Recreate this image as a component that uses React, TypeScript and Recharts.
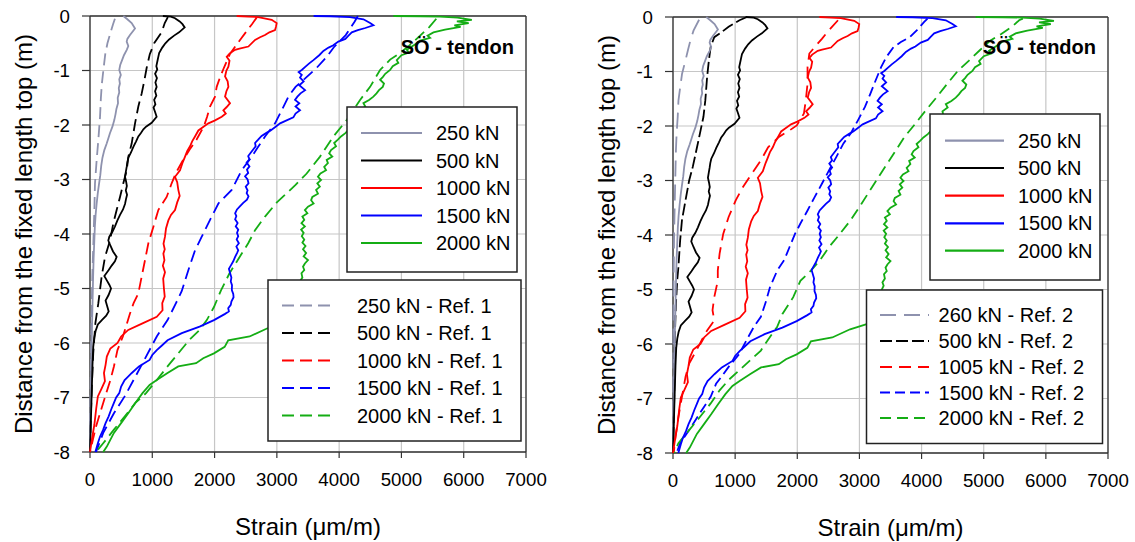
import React from 'react';
import { ScatterChart, Scatter, XAxis, YAxis, CartesianGrid, Legend, ReferenceLine } from 'recharts';

type Pt = [number, number]; // [strain (µm/m), depth (m)]

const FONT = '"Liberation Sans", Arial, Helvetica, sans-serif';

const strainTicks = [0, 1000, 2000, 3000, 4000, 5000, 6000, 7000];
const depthTicks = [0, -1, -2, -3, -4, -5, -6, -7, -8];

const loadLabels = ['250 kN', '500 kN', '1000 kN', '1500 kN', '2000 kN'];
const ref1Labels = ['250 kN - Ref. 1', '500 kN - Ref. 1', '1000 kN - Ref. 1', '1500 kN - Ref. 1', '2000 kN - Ref. 1'];
const ref2Labels = ['260 kN - Ref. 2', '500 kN - Ref. 2', '1005 kN - Ref. 2', '1500 kN - Ref. 2', '2000 kN - Ref. 2'];
const seriesColors = ['#8e92ae', '#000000', '#ff0000', '#0000ff', '#14ad14'];
const ref1Dashes = ['12 6', '12 6', '12 6', '12 6', '12 6'];
const ref2Dashes = ['16 8', '12 4', '12 7', '10 5', '11 6'];

// ---- measured (solid) ----
const meas250: Pt[] = [
  [535, 0], [600, -0.06], [669, -0.13], [723, -0.23], [642, -0.35], [600, -0.42], [589, -0.47], [615, -0.55],
  [590, -0.62], [545, -0.72], [515, -0.81], [485, -0.9], [470, -0.99], [495, -1.08], [470, -1.16], [480, -1.24],
  [462, -1.32], [470, -1.4], [445, -1.5], [450, -1.6], [425, -1.7], [410, -1.8], [390, -1.91], [360, -2.03],
  [320, -2.15], [290, -2.26], [268, -2.34], [230, -2.46], [200, -2.6], [180, -2.75], [165, -2.92], [145, -3.08],
  [125, -3.25], [107, -3.44], [90, -3.65], [78, -3.86], [70, -4.1], [58, -4.45], [50, -4.78], [40, -5.3],
  [30, -5.8], [20, -6.4], [12, -7.0], [5, -7.5], [0, -8],
];
const meas500: Pt[] = [
  [1170, 0], [1300, -0.01], [1365, -0.04], [1440, -0.1], [1485, -0.15], [1520, -0.21], [1430, -0.3], [1350, -0.36],
  [1270, -0.43], [1210, -0.5], [1160, -0.58], [1110, -0.68], [1095, -0.76], [1080, -0.84], [1065, -0.92], [1080, -0.98],
  [1045, -1.06], [1075, -1.14], [1050, -1.22], [1070, -1.3], [1045, -1.38], [1065, -1.46], [1030, -1.54], [1050, -1.62],
  [1020, -1.68], [1045, -1.76], [1070, -1.85], [990, -1.96], [900, -2.03], [857, -2.08], [815, -2.15], [776, -2.21],
  [740, -2.3], [696, -2.4], [660, -2.5], [616, -2.6], [600, -2.68], [589, -2.77], [575, -2.86], [562, -2.95],
  [580, -3.04], [592, -3.12], [575, -3.2], [595, -3.28], [578, -3.36], [562, -3.45], [530, -3.55], [482, -3.65],
  [440, -3.75], [401, -3.86], [360, -3.96], [310, -4.05], [294, -4.12], [330, -4.22], [370, -4.32], [428, -4.42],
  [400, -4.5], [348, -4.58], [300, -4.66], [230, -4.77], [270, -4.85], [310, -4.93], [338, -5.0], [298, -5.12],
  [250, -5.22], [275, -5.32], [300, -5.42], [260, -5.5], [190, -5.58], [126, -5.66], [90, -5.78], [69, -5.9],
  [52, -6.07], [40, -6.4], [30, -6.8], [20, -7.2], [10, -7.6], [0, -8],
];
const meas1000: Pt[] = [
  [2355, 0], [2543, -0.01], [2700, -0.02], [2917, -0.07], [2997, -0.13], [2985, -0.2], [2970, -0.26], [2880, -0.3],
  [2810, -0.35], [2730, -0.39], [2650, -0.44], [2543, -0.56], [2400, -0.6], [2329, -0.62], [2240, -0.69], [2195, -0.75],
  [2240, -0.82], [2222, -0.93], [2190, -1.0], [2168, -1.11], [2210, -1.2], [2222, -1.3], [2190, -1.38], [2168, -1.48],
  [2248, -1.6], [2195, -1.67], [2141, -1.73], [2180, -1.79], [2115, -1.85], [2000, -1.92], [1900, -1.97], [1800, -2.05],
  [1740, -2.1], [1686, -2.21], [1640, -2.3], [1606, -2.39], [1560, -2.48], [1526, -2.58], [1490, -2.68], [1445, -2.83],
  [1365, -2.95], [1400, -3.05], [1418, -3.19], [1440, -3.3], [1400, -3.42], [1365, -3.56], [1300, -3.65], [1258, -3.75],
  [1220, -3.9], [1204, -4.05], [1180, -4.18], [1200, -4.28], [1178, -4.36], [1195, -4.48], [1170, -4.58], [1204, -4.7],
  [1175, -4.82], [1187, -5.0], [1200, -5.15], [1160, -5.27], [1165, -5.4], [1072, -5.52], [843, -5.64], [614, -5.76],
  [500, -5.88], [442, -6.0], [327, -6.1], [270, -6.25], [250, -6.4], [224, -6.55], [240, -6.7], [180, -6.85],
  [126, -6.98], [100, -7.2], [70, -7.5], [29, -7.78], [0, -8],
];
const meas1500: Pt[] = [
  [3590, 0], [3855, -0.005], [4175, -0.02], [4390, -0.06], [4497, -0.13], [4550, -0.17], [4420, -0.22], [4300, -0.26],
  [4203, -0.3], [4150, -0.36], [4100, -0.42], [3988, -0.47], [3900, -0.54], [3830, -0.58], [3747, -0.64], [3680, -0.72],
  [3587, -0.81], [3520, -0.87], [3460, -0.93], [3400, -0.99], [3350, -1.03], [3400, -1.08], [3372, -1.13], [3430, -1.2],
  [3360, -1.27], [3453, -1.36], [3380, -1.42], [3330, -1.48], [3292, -1.54], [3360, -1.6], [3300, -1.66], [3372, -1.73],
  [3300, -1.79], [3265, -1.86], [3130, -1.93], [3052, -1.97], [2970, -2.04], [2900, -2.1], [2840, -2.14], [2755, -2.2],
  [2700, -2.27], [2650, -2.33], [2660, -2.39], [2620, -2.45], [2580, -2.51], [2540, -2.57], [2560, -2.63], [2515, -2.69],
  [2560, -2.76], [2520, -2.82], [2540, -2.88], [2490, -2.94], [2530, -3.0], [2545, -3.07], [2500, -3.13], [2530, -3.2],
  [2515, -3.25], [2545, -3.31], [2520, -3.37], [2460, -3.43], [2410, -3.49], [2360, -3.55], [2330, -3.62], [2350, -3.67],
  [2330, -3.73], [2370, -3.8], [2340, -3.86], [2380, -3.92], [2360, -3.98], [2380, -4.04], [2355, -4.1], [2390, -4.17],
  [2350, -4.23], [2380, -4.3], [2360, -4.35], [2330, -4.42], [2300, -4.5], [2260, -4.58], [2230, -4.64], [2250, -4.72],
  [2270, -4.8], [2260, -4.87], [2280, -4.94], [2277, -5.03], [2300, -5.1], [2305, -5.16], [2270, -5.24], [2260, -5.3],
  [2219, -5.36], [2230, -5.42], [2162, -5.47], [1990, -5.58], [1760, -5.7], [1474, -5.82], [1245, -5.95], [1150, -6.05],
  [1072, -6.13], [1000, -6.22], [957, -6.31], [786, -6.43], [671, -6.55], [600, -6.63], [556, -6.68], [500, -6.8],
  [470, -6.92], [420, -7.0], [384, -7.1], [340, -7.22], [298, -7.35], [250, -7.47], [212, -7.59], [160, -7.72],
  [126, -7.84], [86, -8],
];
const meas2000: Pt[] = [
  [4870, 0], [5300, -0.005], [5620, -0.01], [5900, -0.03], [6130, -0.07], [5890, -0.1], [6080, -0.13], [5850, -0.17],
  [5950, -0.2], [5700, -0.25], [5514, -0.3], [5420, -0.36], [5460, -0.4], [5300, -0.45], [5247, -0.5], [5180, -0.55],
  [5086, -0.62], [5120, -0.67], [5000, -0.72], [4925, -0.81], [4950, -0.86], [4860, -0.92], [4818, -0.99], [4740, -1.06],
  [4700, -1.12], [4657, -1.17], [4720, -1.24], [4700, -1.3], [4640, -1.36], [4600, -1.42], [4550, -1.48], [4480, -1.54],
  [4390, -1.6], [4420, -1.66], [4336, -1.73], [4350, -1.8], [4290, -1.86], [4270, -1.91], [4200, -2.03], [4150, -2.09],
  [4100, -2.15], [4030, -2.21], [3980, -2.27], [3920, -2.33], [3950, -2.39], [3870, -2.46], [3840, -2.52], [3890, -2.58],
  [3800, -2.64], [3820, -2.7], [3760, -2.77], [3790, -2.83], [3700, -2.89], [3660, -2.95], [3710, -3.01], [3650, -3.07],
  [3690, -3.13], [3630, -3.19], [3660, -3.26], [3570, -3.32], [3550, -3.38], [3590, -3.44], [3500, -3.5], [3450, -3.56],
  [3490, -3.62], [3410, -3.68], [3440, -3.74], [3395, -3.8], [3450, -3.86], [3390, -3.92], [3430, -3.98], [3400, -4.04],
  [3440, -4.1], [3410, -4.16], [3460, -4.22], [3420, -4.28], [3470, -4.35], [3430, -4.41], [3500, -4.48], [3450, -4.54],
  [3420, -4.6], [3440, -4.66], [3395, -4.72], [3410, -4.8], [3370, -4.87], [3390, -4.93], [3360, -5.0], [3400, -5.2],
  [3380, -5.4], [3300, -5.55], [3130, -5.63], [2850, -5.73], [2563, -5.88], [2219, -5.95], [2162, -6.07], [1990, -6.19],
  [1818, -6.28], [1703, -6.37], [1417, -6.43], [1245, -6.55], [1072, -6.68], [957, -6.77], [843, -6.92], [728, -7.1],
  [614, -7.29], [499, -7.47], [384, -7.65], [270, -7.9], [212, -8],
];

// ---- Ref. 1 (dashed, left panel) ----
const ref1_250: Pt[] = [
  [400, -0.05], [370, -0.15], [330, -0.3], [280, -0.5], [245, -0.7], [214, -1.0], [190, -1.25], [175, -1.5],
  [161, -1.85], [134, -2.27], [107, -2.64], [80, -3.07], [70, -3.56], [54, -4.17], [37, -4.78], [25, -5.5],
  [15, -6.3], [8, -7.0], [0, -8],
];
const ref1_500: Pt[] = [
  [1250, -0.02], [1200, -0.13], [1150, -0.3], [1030, -0.5], [960, -0.7], [910, -0.95], [870, -1.2], [830, -1.42],
  [776, -1.66], [723, -1.97], [669, -2.34], [616, -2.58], [589, -2.83], [535, -3.07], [482, -3.32], [428, -3.56],
  [375, -3.8], [321, -4.12], [241, -4.42], [187, -4.78], [134, -5.27], [86, -5.64], [52, -6.19], [29, -6.8],
  [15, -7.3], [0, -8],
];
const ref1_1000: Pt[] = [
  [2676, -0.03], [2600, -0.15], [2500, -0.3], [2409, -0.44], [2249, -0.69], [2150, -0.95], [2080, -1.15], [2034, -1.3],
  [2007, -1.48], [1927, -1.66], [1880, -1.85], [1830, -2.02], [1710, -2.27], [1600, -2.45], [1470, -2.69], [1380, -2.88],
  [1311, -3.07], [1231, -3.32], [1097, -3.56], [1017, -3.87], [937, -4.17], [883, -4.48], [830, -4.78], [776, -5.09],
  [700, -5.27], [642, -5.46], [528, -5.88], [441, -6.13], [384, -6.43], [327, -6.68], [212, -7.1], [97, -7.53], [0, -8],
];
const ref1_1500: Pt[] = [
  [4300, 0], [4250, -0.1], [4106, -0.35], [3924, -0.56], [3800, -0.75], [3640, -0.95], [3450, -1.15], [3300, -1.3],
  [3185, -1.48], [3078, -1.73], [2971, -1.97], [2810, -2.21], [2700, -2.4], [2596, -2.58], [2436, -2.83], [2275, -3.19],
  [2061, -3.44], [1954, -3.68], [1794, -4.05], [1686, -4.3], [1580, -4.66], [1472, -5.05], [1380, -5.27], [1245, -5.58],
  [1072, -5.88], [900, -6.25], [728, -6.62], [556, -6.98], [384, -7.29], [212, -7.65], [97, -8],
];
const ref1_2000: Pt[] = [
  [5560, -0.05], [5450, -0.2], [5300, -0.36], [5120, -0.55], [4950, -0.7], [4818, -0.8], [4657, -0.99], [4497, -1.3],
  [4336, -1.54], [4122, -1.91], [3908, -2.21], [3693, -2.58], [3479, -2.89], [3300, -3.1], [3000, -3.42], [2810, -3.68],
  [2650, -3.93], [2540, -4.17], [2370, -4.48], [2240, -4.72], [2105, -5.03], [1990, -5.34], [1875, -5.58], [1760, -5.76],
  [1589, -5.95], [1417, -6.19], [1245, -6.43], [1072, -6.68], [900, -6.92], [728, -7.1], [556, -7.35], [384, -7.59],
  [212, -7.84], [97, -8],
];

// ---- Ref. 2 (dashed, right panel) ----
const ref2_260: Pt[] = [
  [420, -0.05], [330, -0.25], [280, -0.43], [240, -0.61], [200, -0.8], [146, -1.04], [117, -1.28], [88, -1.53],
  [76, -1.83], [58, -2.14], [47, -2.45], [41, -2.75], [29, -3.36], [18, -3.98], [12, -4.59], [8, -5.5], [5, -6.5], [0, -8],
];
const ref2_500: Pt[] = [
  [1190, 0], [1070, -0.06], [895, -0.18], [780, -0.28], [664, -0.37], [606, -0.55], [577, -0.8], [549, -1.1],
  [520, -1.53], [490, -1.83], [433, -2.14], [375, -2.45], [318, -2.75], [260, -3.0], [202, -3.36], [144, -3.73],
  [115, -4.1], [87, -4.59], [70, -4.8], [47, -5.26], [29, -5.87], [25, -6.48], [18, -7.09], [0, -8],
];
const ref2_1005: Pt[] = [
  [2655, -0.06], [2512, -0.24], [2396, -0.4], [2281, -0.55], [2194, -0.67], [2165, -0.92], [2165, -1.22], [2137, -1.53],
  [2107, -1.77], [1992, -1.99], [1876, -2.08], [1704, -2.2], [1530, -2.39], [1414, -2.63], [1270, -2.87], [1126, -3.12],
  [1011, -3.36], [895, -3.67], [808, -3.98], [750, -4.34], [721, -4.65], [721, -4.84], [664, -5.14], [636, -5.38],
  [664, -5.57], [549, -5.75], [462, -5.93], [375, -6.12], [260, -6.36], [202, -6.6], [144, -6.97], [87, -7.34], [40, -7.7], [12, -8],
];
const ref2_1500: Pt[] = [
  [4096, -0.03], [4042, -0.09], [3926, -0.24], [3811, -0.37], [3667, -0.46], [3551, -0.55], [3436, -0.73], [3349, -0.92],
  [3262, -1.16], [3175, -1.41], [3089, -1.65], [2974, -1.9], [2858, -2.14], [2743, -2.32], [2627, -2.57], [2512, -2.81],
  [2396, -3.06], [2281, -3.3], [2165, -3.55], [2050, -3.79], [1963, -3.98], [1876, -4.22], [1790, -4.46], [1678, -4.65],
  [1560, -4.96], [1501, -5.2], [1414, -5.5], [1299, -5.69], [1183, -5.93], [1068, -6.18], [895, -6.42], [780, -6.6],
  [693, -6.73], [606, -6.97], [433, -7.27], [260, -7.58], [115, -7.82], [57, -8],
];
const ref2_2000: Pt[] = [
  [5630, -0.03], [5570, -0.06], [5455, -0.18], [5283, -0.31], [5110, -0.43], [4937, -0.61], [4763, -0.8], [4590, -0.98],
  [4417, -1.22], [4244, -1.47], [4070, -1.71], [3898, -1.96], [3724, -2.2], [3551, -2.51], [3378, -2.81], [3205, -3.12],
  [3031, -3.43], [2858, -3.73], [2685, -3.98], [2512, -4.22], [2368, -4.46], [2223, -4.65], [2050, -4.84], [1935, -5.14],
  [1761, -5.45], [1675, -5.69], [1560, -5.87], [1414, -6.12], [1242, -6.3], [1068, -6.48], [895, -6.66], [750, -6.85],
  [606, -7.09], [433, -7.34], [260, -7.58], [87, -7.82], [18, -8],
];

const measuredSeries = [meas250, meas500, meas1000, meas1500, meas2000];
const ref1Series = [ref1_250, ref1_500, ref1_1000, ref1_1500, ref1_2000];
const ref2Series = [ref2_260, ref2_500, ref2_1005, ref2_1500, ref2_2000];

const toXY = (arr: Pt[]) => arr.map(([x, y]) => ({ x, y }));
const NoDot = () => <g />;

type BoxCfg = { x: number; y: number; w: number; h: number; rows: number[]; lx1: number; lx2: number; tx: number };
type PanelCfg = {
  left: number; width: number; yAxisWidth: number; marginRight: number; marginTop: number; xAxisHeight: number;
  leg1: BoxCfg; leg2: BoxCfg; tagRight: number; tagY: number;
};

const leftCfg: PanelCfg = {
  left: 0, width: 567, yAxisWidth: 90, marginRight: 41, marginTop: 16, xAxisHeight: 90,
  leg1: { x: 347, y: 107, w: 170, h: 165, rows: [133, 160.5, 188, 215.5, 243], lx1: 361, lx2: 422, tx: 436 },
  leg2: { x: 268, y: 280, w: 253, h: 161, rows: [305.5, 333, 360.5, 388, 415.5], lx1: 282, lx2: 335, tx: 357 },
  tagRight: 514, tagY: 53.5,
};
const rightCfg: PanelCfg = {
  left: 567, width: 568, yAxisWidth: 106, marginRight: 27, marginTop: 17, xAxisHeight: 89,
  leg1: { x: 363, y: 114, w: 170, h: 166, rows: [140.6, 168, 195.6, 223.3, 250.6], lx1: 378, lx2: 437, tx: 451 },
  leg2: { x: 299.5, y: 290, w: 236, h: 153.5, rows: [315, 341, 367, 392.5, 418], lx1: 313, lx2: 362, tx: 371.6 },
  tagRight: 529, tagY: 54,
};

function LegendBox({ box, labels, dashes }: { box: BoxCfg; labels: string[]; dashes?: string[] }) {
  return (
    <g>
      <rect x={box.x} y={box.y} width={box.w} height={box.h} fill="#ffffff" stroke="#222" strokeWidth={1.5} />
      {labels.map((lab, i) => (
        <g key={lab}>
          <line x1={box.lx1} x2={box.lx2} y1={box.rows[i]} y2={box.rows[i]} stroke={seriesColors[i]} strokeWidth={2.2}
            strokeDasharray={dashes ? dashes[i] : undefined} />
          <text x={box.tx} y={box.rows[i] + 7} fontSize={20} fontFamily={FONT} fill="#000">{lab}</text>
        </g>
      ))}
    </g>
  );
}

function Panel({ cfg, refs, refLabels, refDashes }: { cfg: PanelCfg; refs: Pt[][]; refLabels: string[]; refDashes: string[] }) {
  const XTitle = (props: any) => {
    const vb = props.viewBox || {};
    return (
      <text x={vb.x + vb.width / 2} y={vb.y + 83} textAnchor="middle" fontSize={24} fontFamily={FONT} fill="#000">
        Strain (μm/m)
      </text>
    );
  };
  const YTitle = (props: any) => {
    const vb = props.viewBox || {};
    const cx = vb.x + vb.width - 58.5;
    const cy = vb.y + vb.height / 2;
    return (
      <text x={cx} y={cy} transform={`rotate(-90 ${cx} ${cy})`} textAnchor="middle" fontSize={24} fontFamily={FONT} fill="#000">
        Distance from the fixed length top (m)
      </text>
    );
  };
  const overlay = () => (
    <svg width={cfg.width} height={542} style={{ position: 'absolute', left: 0, top: 0, overflow: 'visible' }}>
      <text x={cfg.tagRight} y={cfg.tagY} textAnchor="end" fontSize={20} fontWeight="bold" fontFamily={FONT} fill="#000">
        SÖ - tendon
      </text>
      <LegendBox box={cfg.leg1} labels={loadLabels} />
      <LegendBox box={cfg.leg2} labels={refLabels} dashes={refDashes} />
    </svg>
  );
  const tickStyle = { fontSize: 18.7, fill: '#000', fontFamily: FONT };
  return (
    <div style={{ position: 'absolute', left: cfg.left, top: 0, width: cfg.width, height: 542 }}>
      <ScatterChart width={cfg.width} height={542} margin={{ top: cfg.marginTop, right: cfg.marginRight, bottom: 0, left: 0 }}>
        <CartesianGrid stroke="#c6c6c6" strokeWidth={1.2} />
        <XAxis type="number" dataKey="x" domain={[0, 7000]} ticks={strainTicks} interval={0} height={cfg.xAxisHeight}
          tickSize={6} tickMargin={15} tick={tickStyle} axisLine={{ stroke: '#333', strokeWidth: 1.3 }}
          tickLine={{ stroke: '#333', strokeWidth: 1.2 }} label={{ content: XTitle }} />
        <YAxis type="number" dataKey="y" domain={[-8, 0]} ticks={depthTicks} interval={0} width={cfg.yAxisWidth}
          tickSize={8} tickMargin={12} tick={tickStyle} axisLine={{ stroke: '#333', strokeWidth: 1.3 }}
          tickLine={{ stroke: '#333', strokeWidth: 1.2 }} label={{ content: YTitle }} />
        <ReferenceLine y={0} stroke="#333" strokeWidth={1.3} />
        <ReferenceLine x={7000} stroke="#333" strokeWidth={1.3} />
        {refs.map((d, i) => (
          <Scatter key={'ref' + i} data={toXY(d)} fill={seriesColors[i]} shape={NoDot} lineType="joint"
            line={{ stroke: seriesColors[i], strokeWidth: 1.8, strokeDasharray: refDashes[i] }}
            isAnimationActive={false} legendType="none" />
        ))}
        {measuredSeries.map((d, i) => (
          <Scatter key={'m' + i} data={toXY(d)} fill={seriesColors[i]} shape={NoDot} lineType="joint"
            line={{ stroke: seriesColors[i], strokeWidth: 1.8 }}
            isAnimationActive={false} legendType="none" />
        ))}
        <Legend content={overlay} layout="horizontal" verticalAlign="middle" align="center"
          wrapperStyle={{ position: 'absolute', left: 0, top: 0, width: cfg.width, height: 542, pointerEvents: 'none' }} />
      </ScatterChart>
    </div>
  );
}

export default function App() {
  return (
    <div style={{ position: 'absolute', left: 0, top: 0, width: 1135, height: 542, background: '#ffffff' }}>
      <Panel cfg={leftCfg} refs={ref1Series} refLabels={ref1Labels} refDashes={ref1Dashes} />
      <Panel cfg={rightCfg} refs={ref2Series} refLabels={ref2Labels} refDashes={ref2Dashes} />
    </div>
  );
}
